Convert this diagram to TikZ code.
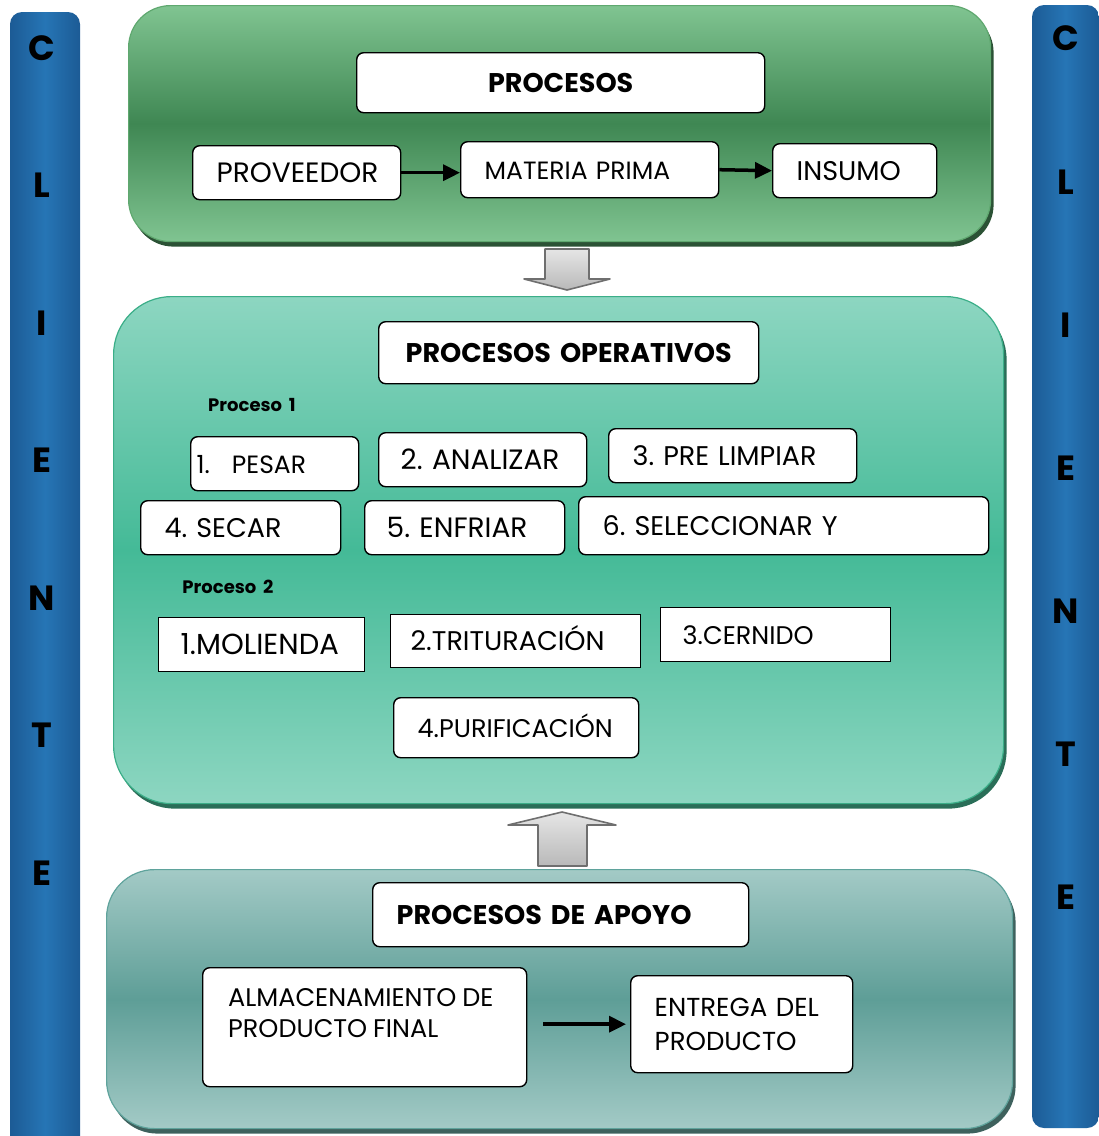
\documentclass[tikz,border=0pt]{standalone}
\usepackage{fontspec}
\setmainfont{Poppins}[WordSpace=0.85]
\newfontfamily\fuenteetq{Poppins}[WordSpace=1.8]
\usetikzlibrary{arrows.meta,shadows}
\frenchspacing

\definecolor{azulbarra}{HTML}{1C5B95}
\definecolor{azulclaro}{HTML}{2675B5}
\definecolor{verdeclaro}{HTML}{80C491}
\definecolor{verdeoscuro}{HTML}{3F8753}
\definecolor{verdeborde}{HTML}{5FA86F}
\definecolor{verdesombra}{HTML}{2B5235}
\definecolor{aguaclaro}{HTML}{8DD6C1}
\definecolor{aguaoscuro}{HTML}{44BA97}
\definecolor{aguaborde}{HTML}{3BAE88}
\definecolor{aguasombra}{HTML}{2A6E58}
\definecolor{grisclaro}{HTML}{A3CAC6}
\definecolor{grismedio}{HTML}{5E9E97}
\definecolor{grisborde}{HTML}{5FA39C}
\definecolor{grissombra}{HTML}{3E615D}
\definecolor{flechagris}{HTML}{6F6F6F}

\newcommand{\tam}[1]{\fontsize{#1}{34}\selectfont}

\tikzset{
  panel/.style={anchor=north west, inner sep=0pt, line width=1.2pt},
  marco/.style={draw=black, fill=white, rounded corners=7pt, line width=1.4pt,
    anchor=north west, align=left, inner xsep=24pt, inner ysep=0pt,
    font=\tam{27}},
  caja/.style={marco, text height=19pt, text depth=0pt},
  recta/.style={caja, rounded corners=0pt},
  titulo/.style={caja, font=\tam{27}\bfseries},
  etiqueta/.style={font=\fuenteetq\fontsize{18}{20}\selectfont\bfseries},
  letra/.style={font=\fontsize{35}{40}\selectfont\bfseries},
  flecha/.style={-{Triangle[length=17pt,width=16pt]}, line width=3.5pt},
  bloque/.style={draw=flechagris, line width=1.6pt, line join=round,
    top color=gray!20, bottom color=gray!55},
}

\begin{document}
\begin{tikzpicture}[x=1pt,y=-1pt]
  \useasboundingbox (0,0) rectangle (1099,1136);

  % paneles
  \node[panel, minimum width=862pt, minimum height=236pt, rounded corners=42pt,
    top color=verdeclaro, bottom color=verdeclaro, middle color=verdeoscuro, draw=verdeborde,
    drop shadow={shadow xshift=3pt, shadow yshift=-5pt, opacity=1, fill=verdesombra}]
    (sup) at (128,5) {};
  \node[panel, minimum width=890pt, minimum height=507pt, rounded corners=58pt,
    top color=aguaclaro, bottom color=aguaclaro, middle color=aguaoscuro, draw=aguaborde,
    drop shadow={shadow xshift=3pt, shadow yshift=-5pt, opacity=1, fill=aguasombra}]
    (med) at (113,296) {};
  \node[panel, minimum width=906pt, minimum height=259pt, rounded corners=48pt,
    top color=grisclaro, bottom color=grisclaro, middle color=grismedio, draw=grisborde,
    drop shadow={shadow xshift=3pt, shadow yshift=-5pt, opacity=1, fill=grissombra}]
    (inf) at (106,869) {};

  % barras de cliente
  \shade[rounded corners=12pt, left color=azulbarra, right color=azulbarra, middle color=azulclaro]
    (10,12) rectangle (80,1160);
  \shade[rounded corners=12pt, left color=azulbarra, right color=azulbarra, middle color=azulclaro]
    (1032,5) rectangle (1099,1128);
  \foreach \ltr/\y [count=\i] in {C/48,L/185,I/323,E/460,N/598,T/735,E/873}
    \node[letra] (izq\i) at (42,\y) {\ltr};
  \foreach \ltr/\y [count=\i] in {C/38,L/182,I/325,E/468,N/611,T/754,E/897}
    \node[letra] (der\i) at (1066,\y) {\ltr};

  % flechas grises
  \draw[bloque] (545,249) -- (589,249) -- (589,279) -- (610,279) -- (567,290)
    -- (524,279) -- (545,279) -- cycle;
  \draw[bloque] (562,812) -- (616,825) -- (587,825) -- (587,866) -- (538,866)
    -- (538,825) -- (508,825) -- cycle;

  % procesos
  \node[titulo, align=center, text width=360pt, minimum height=60pt] (proc) at (356,52) {PROCESOS};
  \node[caja, align=center, text width=160pt, minimum height=54pt, font=\tam{28}] (prov) at (192,145) {PROVEEDOR};
  \node[caja, text width=210pt, minimum height=56pt, font=\tam{25}] (mat) at (460,141) {MATERIA PRIMA};
  \node[caja, text width=116pt, minimum height=54pt] (ins) at (772,143) {INSUMO};
  \draw[flecha] (prov.east) -- (prov.east -| mat.west);
  \draw[flecha] (mat.east) -- (ins.west);

  % procesos operativos
  \node[titulo, align=center, text width=332pt, minimum height=62pt] (oper) at (378,321) {PROCESOS OPERATIVOS};
  \node[etiqueta] (et1) at (252,405) {Proceso 1};
  \node[caja, inner xsep=6pt, text width=156pt, minimum height=54pt, font=\tam{25}] (a1) at (190,436) {1.\hspace{22pt}PESAR};
  \node[caja, inner xsep=22pt, text width=164pt, minimum height=54pt, font=\tam{28}] (a2) at (378,432) {2. ANALIZAR};
  \node[caja, text width=200pt, minimum height=54pt] (a3) at (608,428) {3. PRE LIMPIAR};
  \node[caja, text width=152pt, minimum height=54pt] (a4) at (140,500) {4. SECAR};
  \node[caja, inner xsep=22pt, text width=156pt, minimum height=54pt, font=\tam{28}] (a5) at (364,500) {5. ENFRIAR};
  \node[caja, text width=362pt, minimum height=58pt] (a6) at (578,496) {6. SELECCIONAR Y};
  \node[etiqueta] (et2) at (228,587) {Proceso 2};
  \node[recta, inner xsep=22pt, text width=162pt, minimum height=54pt, font=\tam{29}] (b1) at (158,617) {1.MOLIENDA};
  \node[recta, inner xsep=20pt, text width=210pt, minimum height=53pt] (b2) at (390,614) {2.TRITURACIÓN};
  \node[recta, inner xsep=22pt, text width=186pt, minimum height=54pt, font=\tam{25.5}] (b3) at (660,607) {3.CERNIDO};
  \node[caja, text width=197pt, minimum height=60pt, font=\tam{25.5}] (b4) at (393,697) {4.PURIFICACIÓN};

  % procesos de apoyo
  \node[titulo, text width=328pt, minimum height=64pt] (apoyo) at (372,882) {PROCESOS DE APOYO};
  \node[marco, minimum width=324pt, minimum height=119pt] (alm) at (202,967) {};
  \node[anchor=north west, align=left, inner sep=0pt, font=\fontsize{25.5}{31}\selectfont]
    (almtxt) at ([xshift=26pt, yshift=-21pt]alm.north west) {ALMACENAMIENTO DE\\PRODUCTO FINAL};
  \node[marco, text width=174pt, minimum height=97pt, font=\tam{26}] (ent) at (630,975) {ENTREGA DEL\\PRODUCTO};
  \draw[flecha, shorten <=16pt, shorten >=4pt] (alm.east |- ent.west) -- (ent.west);
\end{tikzpicture}
\end{document}
